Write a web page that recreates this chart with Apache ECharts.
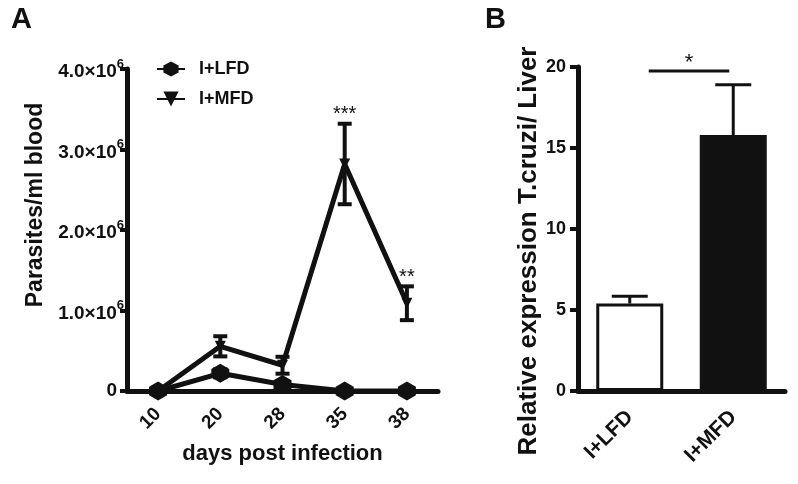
<!DOCTYPE html>
<html><head><meta charset="utf-8">
<script src="https://cdn.jsdelivr.net/npm/echarts@6/dist/echarts.min.js"></script>
<style>html,body{margin:0;padding:0;background:#fff}#c{width:798px;height:484px}</style>
</head><body><div id="c"></div>
<script>
const days = ['10', '20', '28', '35', '38'];
const lfdMean = [0, 220000, 80000, 0, 0];
const lfdErr = [0, 50000, 30000, 0, 0];
const mfdMean = [0, 555000, 320000, 2820000, 1090000];
const mfdErr = [0, 125000, 105000, 500000, 210000];
const aTicks = [0, 1000000, 2000000, 3000000, 4000000];
const aStars = ['', '', '', '***', '**'];

const groups = ['I+LFD', 'I+MFD'];
const liverMean = [5.4, 15.8];
const liverErr = [0.45, 3.1];
const bTicks = [0, 5, 10, 15, 20];
const bSig = {from: 0, to: 1, level: 20, text: '*'};

const INK = '#111';
const FONT = '"Liberation Sans", Arial, sans-serif';
const HEX = 'path://M5,0 L10,3 L10,8 L5,11 L0,8 L0,3 Z';

function errBars(gridIdx, data, capW, lw, upOnly, stars) {
  return {
    type: 'custom', xAxisIndex: gridIdx, yAxisIndex: gridIdx, z: 5,
    data: data,
    renderItem: function (params, api) {
      const i = api.value(0), m = api.value(1), e = api.value(2);
      const children = [];
      if (e > 0) {
        const top = api.coord([i, m + e]);
        const mid = api.coord([i, m]);
        const bot = upOnly ? mid : api.coord([i, m - e]);
        const st = {stroke: INK, lineWidth: lw};
        children.push({type: 'line', shape: {x1: top[0], y1: top[1], x2: bot[0], y2: bot[1]}, style: st});
        children.push({type: 'line', shape: {x1: top[0] - capW / 2, y1: top[1], x2: top[0] + capW / 2, y2: top[1]}, style: st});
        if (!upOnly) children.push({type: 'line', shape: {x1: bot[0] - capW / 2, y1: bot[1], x2: bot[0] + capW / 2, y2: bot[1]}, style: st});
        if (stars && stars[i]) {
          children.push({type: 'text', style: {text: stars[i], x: top[0], y: top[1] + 1, align: 'center', verticalAlign: 'bottom', font: '20px ' + FONT, fill: INK}});
        }
      }
      return {type: 'group', children: children};
    }
  };
}

const chart = echarts.init(document.getElementById('c'), null, {renderer: 'canvas'});
chart.setOption({
  animation: false,
  backgroundColor: '#fff',
  textStyle: {fontFamily: FONT},
  title: [
    {text: 'A', left: 6, top: 0, textStyle: {fontSize: 29, fontWeight: 'bold', color: INK, fontFamily: FONT}},
    {text: 'B', left: 480, top: 0, textStyle: {fontSize: 29, fontWeight: 'bold', color: INK, fontFamily: FONT}}
  ],
  legend: {
    data: [{name: 'I+LFD'}, {name: 'I+MFD'}], orient: 'vertical', left: 151, top: 55, itemWidth: 28, itemHeight: 19, itemGap: 12,
    textStyle: {fontSize: 18, fontWeight: 'bold', color: INK, fontFamily: FONT, padding: [0, 0, 0, 9]}
  },
  grid: [
    {left: 127, top: 69, width: 311, height: 322},
    {left: 578, top: 67, width: 207, height: 324}
  ],
  xAxis: [
    {
      type: 'category', gridIndex: 0, data: days, boundaryGap: true,
      axisLine: {lineStyle: {color: INK, width: 5}},
      axisTick: {alignWithLabel: true, length: 9, lineStyle: {color: INK, width: 4}},
      axisLabel: {rotate: 45, margin: 20, fontSize: 19, fontWeight: 'bold', color: INK, fontFamily: FONT},
      name: 'days post infection', nameLocation: 'middle', nameGap: 52,
      nameTextStyle: {fontSize: 22, fontWeight: 'bold', color: INK, fontFamily: FONT}
    },
    {
      type: 'category', gridIndex: 1, data: groups, boundaryGap: true,
      axisLine: {lineStyle: {color: INK, width: 5}},
      axisTick: {alignWithLabel: true, length: 13, lineStyle: {color: INK, width: 5}},
      axisLabel: {rotate: 45, margin: 23, fontSize: 21, fontWeight: 'bold', color: INK, fontFamily: FONT}
    }
  ],
  yAxis: [
    {
      type: 'value', gridIndex: 0, min: 0, max: 4000000, interval: 1000000,
      splitLine: {show: false},
      axisLine: {show: true, lineStyle: {color: INK, width: 5}},
      axisTick: {show: true, length: 7, lineStyle: {color: INK, width: 4}},
      axisLabel: {
        margin: 3, color: INK,
        formatter: function (v) {
          if (v === 0) return '{z|0}';
          return '{m|' + (v / 1e6).toFixed(1) + '×10}{s|6}';
        },
        rich: {
          z: {fontSize: 19, fontWeight: 'bold', color: INK, fontFamily: FONT, padding: [0, 7, 0, 0]},
          m: {fontSize: 19, fontWeight: 'bold', color: INK, fontFamily: FONT, padding: [6, 0, 0, 0]},
          s: {fontSize: 13, fontWeight: 'bold', color: INK, fontFamily: FONT, padding: [0, 0, 10, 0]}
        }
      },
      name: 'Parasites/ml blood', nameLocation: 'middle', nameGap: 80, nameRotate: 90,
      nameTextStyle: {fontSize: 23, fontWeight: 'bold', color: INK, fontFamily: FONT, padding: [0, 0, 0, 50]}
    },
    {
      type: 'value', gridIndex: 1, min: 0, max: 20, interval: 5,
      splitLine: {show: false},
      axisLine: {show: true, lineStyle: {color: INK, width: 5}},
      axisTick: {show: true, length: 8, lineStyle: {color: INK, width: 4}},
      axisLabel: {margin: 12, fontSize: 18, fontWeight: 'bold', color: INK, fontFamily: FONT},
      name: 'Relative expression T.cruzi/ Liver', nameLocation: 'middle', nameGap: 36, nameRotate: 90,
      nameTextStyle: {fontSize: 26, fontWeight: 'bold', color: INK, fontFamily: FONT, padding: [0, 44, 0, 0]}
    }
  ],
  series: [
    {
      name: 'I+LFD', type: 'line', xAxisIndex: 0, yAxisIndex: 0, data: lfdMean, z: 3,
      symbol: HEX, symbolSize: [18, 19], showAllSymbol: true,
      lineStyle: {color: INK, width: 5}, itemStyle: {color: INK}
    },
    {
      name: 'I+MFD', type: 'line', xAxisIndex: 0, yAxisIndex: 0, data: mfdMean, z: 4,
      symbol: 'triangle', symbolRotate: 180, symbolSize: 11, showAllSymbol: true,
      lineStyle: {color: INK, width: 5}, itemStyle: {color: INK}
    },
    errBars(0, lfdMean.map((m, i) => [i, m, lfdErr[i]]), 14, 4, false, null),
    errBars(0, mfdMean.map((m, i) => [i, m, mfdErr[i]]), 14, 4, false, aStars),
    {
      type: 'bar', xAxisIndex: 1, yAxisIndex: 1, barWidth: 67, z: 3,
      data: liverMean.map((v, i) => ({
        value: v,
        itemStyle: i === 0 ? {color: '#fff', borderColor: INK, borderWidth: 3} : {color: INK, borderColor: INK, borderWidth: 0}
      }))
    },
    errBars(1, liverMean.map((m, i) => [i, m, liverErr[i]]), 36, 3, true, null),
    {
      type: 'custom', xAxisIndex: 1, yAxisIndex: 1, z: 6,
      data: [[bSig.from, bSig.to, bSig.level]],
      renderItem: function (params, api) {
        const a = api.coord([api.value(0), api.value(2)]);
        const b = api.coord([api.value(1), api.value(2)]);
        const x1 = a[0] + 19, x2 = b[0] - 4, y = a[1] + 4;
        return {type: 'group', children: [
          {type: 'line', shape: {x1: x1, y1: y, x2: x2, y2: y}, style: {stroke: INK, lineWidth: 3}},
          {type: 'text', style: {text: bSig.text, x: (x1 + x2) / 2, y: y + 3, align: 'center', verticalAlign: 'bottom', font: '22px ' + FONT, fill: INK}}
        ]};
      }
    }
  ]
});
</script></body></html>
